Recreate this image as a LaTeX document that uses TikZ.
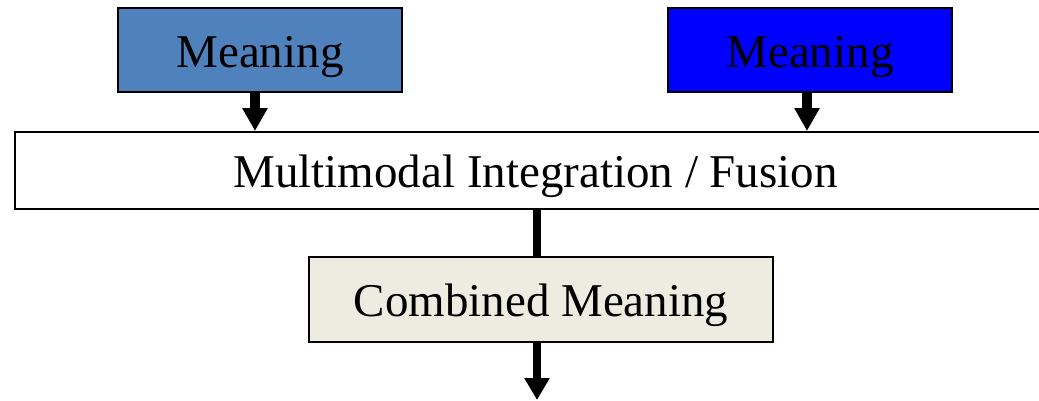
\documentclass[tikz,border=0pt]{standalone}
\usepackage{fontspec}
\setmainfont{Liberation Serif}
\usetikzlibrary{arrows.meta}
\definecolor{steelblue}{HTML}{4F81BD}
\definecolor{pureblue}{HTML}{0000FF}
\definecolor{paletan}{HTML}{EEECE1}
\tikzset{
  block/.style={draw=black, line width=2pt, inner sep=0pt, anchor=center,
    text height=34pt, text depth=0pt,
    font=\fontsize{47}{56}\selectfont},
  flow/.style={line width=10pt, -{Triangle[length=23pt,width=24pt]}},
  link/.style={line width=8pt},
  outflow/.style={line width=8pt, -{Triangle[length=22pt,width=24pt]}}
}
\begin{document}
\begin{tikzpicture}[x=1pt,y=-1pt]
  \useasboundingbox (0,0) rectangle (1039,400);
  \fill[white] (0,0) rectangle (1039,400);

  % input meanings
  \node[block, fill=steelblue, minimum width=284pt, minimum height=84pt] (m1) at (260,50) {Meaning};
  \node[block, fill=pureblue, minimum width=284pt, minimum height=84pt] (m2) at (810,50) {Meaning};

  % fusion stage (runs past the right edge)
  \node[block, fill=white, minimum width=1041pt, minimum height=77pt] (fus) at (535.5,170.5) {Multimodal Integration / Fusion};

  % result
  \node[block, fill=paletan, minimum width=464pt, minimum height=85pt] (comb) at (541,299.5) {Combined Meaning};
  \coordinate (out) at (537,400);

  % connectors
  \draw[flow] ([xshift=-5pt]m1.south) -- ([xshift=-5pt]m1.south |- fus.north);
  \draw[flow] ([xshift=-3pt]m2.south) -- ([xshift=-3pt]m2.south |- fus.north);
  \draw[link] ([xshift=-4pt]comb.north |- fus.south) -- ([xshift=-4pt]comb.north);
  \draw[outflow] ([xshift=-4pt]comb.south) -- (out);
\end{tikzpicture}
\end{document}
